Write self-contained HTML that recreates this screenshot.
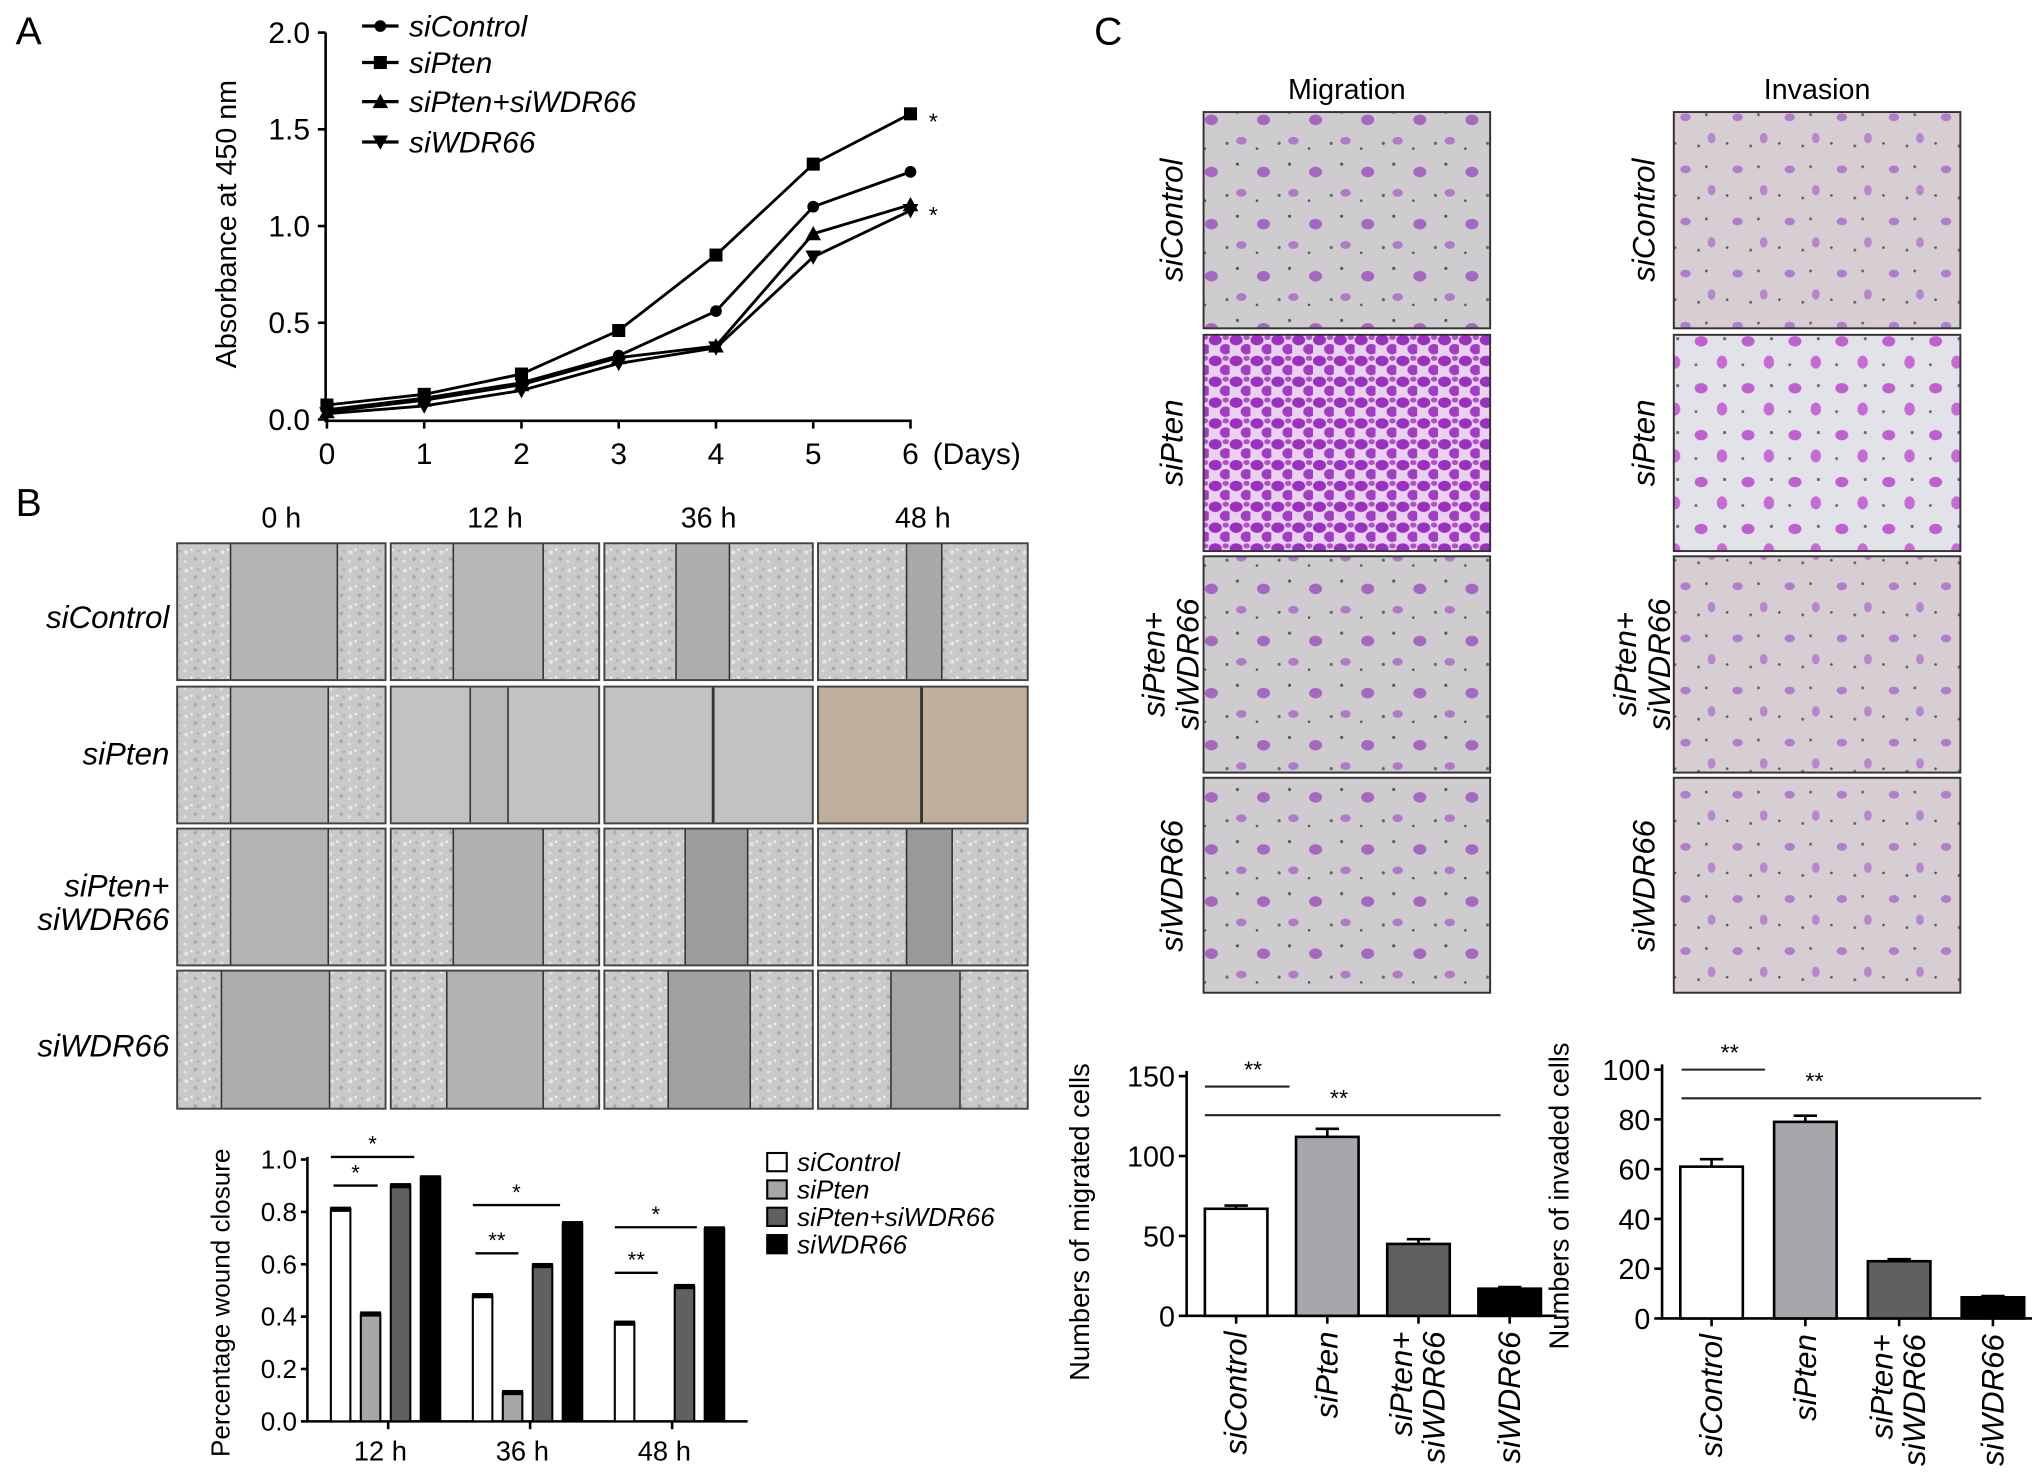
<!DOCTYPE html>
<html><head><meta charset="utf-8"><style>
html,body{margin:0;padding:0;background:#fff;}
svg{display:block;font-family:"Liberation Sans",Arial,sans-serif;}
</style></head><body>
<svg id="fig" width="2032" height="1480" viewBox="0 0 1560 1136" preserveAspectRatio="none" xmlns="http://www.w3.org/2000/svg">
<defs>
<pattern id="grain" width="14" height="14" patternUnits="userSpaceOnUse">
<rect width="14" height="14" fill="#c9c9c9"/><circle cx="3" cy="4" r="1.6" fill="#e6e6e6"/><circle cx="10" cy="9" r="1.4" fill="#a9a9a9"/><circle cx="7" cy="2" r="1" fill="#f0f0f0"/><circle cx="12" cy="3" r="1.2" fill="#b5b5b5"/><circle cx="2" cy="11" r="1.3" fill="#dedede"/>
</pattern>
<pattern id="migbg" width="40" height="40" patternUnits="userSpaceOnUse">
<rect width="40" height="40" fill="#cfcccf"/><ellipse cx="10" cy="12" rx="5" ry="4" fill="#a567bf"/><circle cx="30" cy="6" r="1.2" fill="#555"/><circle cx="22" cy="30" r="1.2" fill="#666"/><ellipse cx="33" cy="28" rx="4" ry="3" fill="#b07ac6"/><circle cx="5" cy="34" r="1" fill="#555"/>
</pattern>
<pattern id="invbg" width="40" height="40" patternUnits="userSpaceOnUse">
<rect width="40" height="40" fill="#d6ced2"/><ellipse cx="14" cy="10" rx="4" ry="3" fill="#b07ccc"/><circle cx="30" cy="8" r="1.1" fill="#666"/><circle cx="24" cy="32" r="1.1" fill="#666"/><ellipse cx="34" cy="26" rx="3" ry="4" fill="#b886cc"/><circle cx="6" cy="30" r="1" fill="#555"/>
</pattern>
<pattern id="dense" width="16" height="16" patternUnits="userSpaceOnUse">
<rect width="16" height="16" fill="#e8d2ef"/><ellipse cx="5" cy="5" rx="5" ry="4" fill="#9b2fc0"/><ellipse cx="13" cy="12" rx="4.5" ry="4" fill="#a23cc4"/><ellipse cx="13" cy="3" rx="2.5" ry="2" fill="#b050c8"/>
</pattern>
<pattern id="invpten" width="36" height="36" patternUnits="userSpaceOnUse">
<rect width="36" height="36" fill="#e2e3e8"/><ellipse cx="10" cy="10" rx="5" ry="4" fill="#c060d0"/><circle cx="28" cy="8" r="1.2" fill="#667"/><ellipse cx="26" cy="26" rx="4" ry="5" fill="#c86ad4"/><circle cx="6" cy="28" r="1.1" fill="#667"/>
</pattern>
</defs>

<text x="12" y="34" font-size="30">A</text>
<text x="12" y="396" font-size="30">B</text>
<text x="840" y="34" font-size="30">C</text>

<g id="panelA"></g>
<g id="woundImgs"></g>
<g id="panelB"></g>
<g id="transImgs"></g>
<g id="migChart"></g>
<g id="invChart"></g>
</svg>
<script>
// ---------- Panel A data ----------
const daysA = [0,1,2,3,4,5,6];
const seriesNamesA = ["siControl","siPten","siPten+siWDR66","siWDR66"];
const siControlA = [0.05,0.11,0.19,0.33,0.56,1.10,1.28];
const siPtenA = [0.075,0.13,0.235,0.46,0.85,1.32,1.58];
const siPtenWdrA = [0.04,0.10,0.18,0.32,0.38,0.96,1.11];
const siWdrA = [0.03,0.07,0.15,0.29,0.37,0.84,1.08];
const yTicksA = [0,0.5,1.0,1.5,2.0];
// ---------- Panel B data ----------
const timesB = ["12 h","36 h","48 h"];
const ctrlB = [0.81,0.48,0.375];
const ptenB = [0.41,0.11,0];
const ptenWdrB = [0.90,0.595,0.515];
const wdrB = [0.93,0.755,0.735];
const yTicksB = [0,0.2,0.4,0.6,0.8,1.0];
// ---------- Panel C data ----------
const groupsC = ["siControl","siPten","siPten+|siWDR66","siWDR66"];
const migVals = [67,112,45,17];
const migErr = [2,5,3,1];
const migTicks = [0,50,100,150];
const invVals = [61,79,23,8.5];
const invErr = [3,2.5,0.8,0.5];
const invTicks = [0,20,40,60,80,100];

const NS = "http://www.w3.org/2000/svg";
function mk(parent, tag, attrs, text){
  const e = document.createElementNS(NS, tag);
  for (const k in attrs) e.setAttribute(k, attrs[k]);
  if (text !== undefined) e.textContent = text;
  parent.appendChild(e);
  return e;
}

// ===== Panel A =====
(function(){
  const g = document.getElementById('panelA');
  const x = d => 251 + d*(699-251)/6;
  const y = v => 322 - v*(322-25)/2;
  let ax = mk(g,'path',{d:`M250 25 V323 H700`,stroke:'#000','stroke-width':2,fill:'none'});
   
  yTicksA.forEach(t=>{
    mk(g,'line',{x1:244,x2:250,y1:y(t),y2:y(t),stroke:'#000','stroke-width':2});
    let tl = mk(g,'text',{x:238,y:y(t)+8,'font-size':23,'text-anchor':'end'},t.toFixed(1));
     
  });
  daysA.forEach(d=>{
    mk(g,'line',{x1:x(d),x2:x(d),y1:323,y2:329,stroke:'#000','stroke-width':2});
    let tl = mk(g,'text',{x:x(d),y:356,'font-size':23,'text-anchor':'middle'},String(d));
     
  });
  let du = mk(g,'text',{x:716,y:356,'font-size':23},'(Days)');
   
  let yl = mk(g,'text',{x:0,y:0,'font-size':22,'text-anchor':'middle',transform:`translate(181 172) rotate(-90)`},'Absorbance at 450 nm');
   
  const all = [siControlA,siPtenA,siPtenWdrA,siWdrA];
  const marker = (gg,i,cx,cy)=>{
    if(i===0) mk(gg,'circle',{cx,cy,r:4.5,fill:'#000'});
    else if(i===1) mk(gg,'rect',{x:cx-5,y:cy-5,width:10,height:10,fill:'#000'});
    else if(i===2) mk(gg,'path',{d:`M${cx} ${cy-6} L${cx+6} ${cy+5} L${cx-6} ${cy+5}Z`,fill:'#000'});
    else mk(gg,'path',{d:`M${cx} ${cy+6} L${cx+6} ${cy-5} L${cx-6} ${cy-5}Z`,fill:'#000'});
  };
  all.forEach((s,i)=>{
    const sg = mk(g,'g',{});
    
    
    mk(sg,'polyline',{points:s.map((v,j)=>x(daysA[j])+','+y(v)).join(' '),fill:'none',stroke:'#000','stroke-width':2.2});
    s.forEach((v,j)=>marker(sg,i,x(daysA[j]),y(v)));
  });
  let s1 = mk(g,'text',{x:713,y:y(siPtenA[6])+12,'font-size':18},'*');
   
  let s2 = mk(g,'text',{x:713,y:y(siPtenWdrA[6])+14,'font-size':18},'*');
   
  const ly=[20,48,78,109];
  seriesNamesA.forEach((n,i)=>{
    const lg = mk(g,'g',{});
     
    mk(lg,'line',{x1:278,x2:306,y1:ly[i],y2:ly[i],stroke:'#000','stroke-width':2.5});
    marker(lg,i,292,ly[i]);
    mk(lg,'text',{x:314,y:ly[i]+8,'font-size':23,'font-style':'italic'},n);
  });
})();

// ===== Wound images =====
(function(){
  const g = document.getElementById('woundImgs');
  const cols=[[136,296],[300,460],[464,624],[628,789]];
  const rows=[[417,522],[527,632],[636,741],[745,851]];
  const gaps=[
    [[177,259],[348,417],[519,560],[696,723]],
    [[177,252],[361,390],[547,548],[707,708]],
    [[177,252],[348,417],[526,574],[696,731]],
    [[170,253],[343,417],[513,576],[684,737]]];
  const gapFill=[["#b4b4b4","#b6b6b6","#adadad","#a9a9a9"],["#b9b9b9","#b8b8b8","#c2c2c2","#bdae9d"],["#b3b3b3","#b0b0b0","#9c9c9c","#999"],["#adadad","#b2b2b2","#a1a1a1","#a5a5a5"]];
  const heads=["0 h","12 h","36 h","48 h"];
  cols.forEach((c,i)=>{
    let t = mk(g,'text',{x:(c[0]+c[1])/2,y:405,'font-size':22,'text-anchor':'middle'},heads[i]);
     
  });
  rows.forEach((r,ri)=>cols.forEach((c,ci)=>{
    const im = mk(g,'g',{});
     
    let fill = 'url(#grain)';
    if(ri===1 && ci===3) fill='#bfae9c';
    else if(ri===1 && ci>=1) fill='#c2c2c2';
    mk(im,'rect',{x:c[0],y:r[0],width:c[1]-c[0],height:r[1]-r[0],fill});
    const gp=gaps[ri][ci];
    mk(im,'rect',{x:gp[0],y:r[0],width:gp[1]-gp[0],height:r[1]-r[0],fill:gapFill[ri][ci]});
    mk(im,'line',{x1:gp[0],x2:gp[0],y1:r[0],y2:r[1],stroke:'#333','stroke-width':1.2});
    mk(im,'line',{x1:gp[1],x2:gp[1],y1:r[0],y2:r[1],stroke:'#333','stroke-width':1.2});
    mk(im,'rect',{x:c[0],y:r[0],width:c[1]-c[0],height:r[1]-r[0],fill:'none',stroke:'#444','stroke-width':1.5});
  }));
  const lab=[["siControl",482],["siPten",587],["siPten+",688],["siWDR66",714],["siWDR66",811]];
  lab.forEach(l=>{
    let t = mk(g,'text',{x:130,y:l[1],'font-size':24,'font-style':'italic','text-anchor':'end'},l[0]);
     
  });
})();

// ===== Panel B chart =====
(function(){
  const g = document.getElementById('panelB');
  const y = v => 1091 - v*(1091-890);
  const gc = i => 298 + i*109;
  const fills=['#fff','#a6a6a6','#606060','#000'];
  const data=[ctrlB,ptenB,ptenWdrB,wdrB];
  mk(g,'path',{d:'M236 888 V1091 H574',stroke:'#000','stroke-width':2,fill:'none'});
  yTicksB.forEach(t=>{
    mk(g,'line',{x1:231,x2:236,y1:y(t),y2:y(t),stroke:'#000','stroke-width':2});
    let tl = mk(g,'text',{x:228,y:y(t)+7,'font-size':20,'text-anchor':'end'},t.toFixed(1));
     
  });
  timesB.forEach((tm,i)=>{
    mk(g,'line',{x1:gc(i),x2:gc(i),y1:1091,y2:1097,stroke:'#000','stroke-width':2});
    let tl = mk(g,'text',{x:gc(i)-6,y:1121,'font-size':21,'text-anchor':'middle'},tm);
     
    data.forEach((s,k)=>{
      const bx = gc(i) - 44 + k*23;
      const v = s[i];
      if(v<=0) return;
      const b = mk(g,'rect',{x:bx,y:y(v),width:15,height:1091-y(v),fill:fills[k],stroke:'#000','stroke-width':1.6});
      
      
      mk(g,'rect',{x:bx-0.5,y:y(v)-2,width:16,height:4,fill:'#000'});
    });
  });
  let yl = mk(g,'text',{x:0,y:0,'font-size':20,'text-anchor':'middle',transform:'translate(176 1000) rotate(-90)'},'Percentage wound closure');
   
  const sig=[[254,318,888,'*'],[256,290,910,'*'],[363,430,925,'*'],[365,398,962,'**'],[472,535,942,'*'],[472,505,977,'**']];
  sig.forEach(s=>{
    const sg = mk(g,'g',{});
     
    mk(sg,'line',{x1:s[0],x2:s[1],y1:s[2],y2:s[2],stroke:'#000','stroke-width':1.8});
    mk(sg,'text',{x:(s[0]+s[1])/2,y:s[2]-4,'font-size':17,'text-anchor':'middle'},s[3]);
  });
  const names=["siControl","siPten","siPten+siWDR66","siWDR66"];
  names.forEach((n,i)=>{
    const lg = mk(g,'g',{});
     
    mk(lg,'rect',{x:589,y:885+i*21,width:15,height:14,fill:fills[i],stroke:'#000','stroke-width':1.6});
    mk(lg,'text',{x:612,y:899+i*21,'font-size':20,'font-style':'italic'},n);
  });
})();

// ===== Transwell images =====
(function(){
  const g = document.getElementById('transImgs');
  const cols=[[924,1144],[1285,1505]];
  const rows=[[86,252],[257,423],[427,593],[597,762]];
  let t1 = mk(g,'text',{x:1034,y:76,'font-size':22,'text-anchor':'middle'},'Migration');
   
  let t2 = mk(g,'text',{x:1395,y:76,'font-size':22,'text-anchor':'middle'},'Invasion');
   
  rows.forEach((r,ri)=>cols.forEach((c,ci)=>{
    let fill = ci===0 ? 'url(#migbg)' : 'url(#invbg)';
    if(ri===1) fill = ci===0 ? 'url(#dense)' : 'url(#invpten)';
    const im = mk(g,'rect',{x:c[0],y:r[0],width:c[1]-c[0],height:r[1]-r[0],fill,stroke:'#333','stroke-width':1.5});
     
  }));
  const lab=[[169,["siControl"]],[340,["siPten"]],[510,["siPten+","siWDR66"]],[680,["siWDR66"]]];
  [900,1262].forEach(xx=>lab.forEach(l=>{
    const tg = mk(g,'text',{x:0,y:0,'font-size':24,'font-style':'italic','text-anchor':'middle',transform:`translate(${xx} ${l[0]}) rotate(-90)`});
     
    if(l[1].length===1){ mk(tg,'tspan',{x:0,y:8},l[1][0]); }
    else { mk(tg,'tspan',{x:0,y:-6},l[1][0]); mk(tg,'tspan',{x:0,y:20},l[1][1]); }
  }));
})();

// ===== Panel C charts =====
function barChart(id, vals, errs, ticks, axX, y0, yTop, vTop, barX0, pitch, yTitle, ytX, ytY, sig){
  const g = document.getElementById(id);
  const y = v => y0 - v*(y0-yTop)/vTop;
  const fills=['#fff','#a7a7ab','#606060','#000'];
  const right = barX0 + 3*pitch + 60;
  mk(g,'path',{d:`M${axX} ${yTop-4} V${y0} H${right}`,stroke:'#000','stroke-width':2,fill:'none'});
  ticks.forEach(t=>{
    mk(g,'line',{x1:axX-6,x2:axX,y1:y(t),y2:y(t),stroke:'#000','stroke-width':2});
    let tl = mk(g,'text',{x:axX-9,y:y(t)+8,'font-size':22,'text-anchor':'end'},String(t));
     
  });
  vals.forEach((v,i)=>{
    const bx = barX0 + i*pitch;
    const cx = bx + 24;
    mk(g,'line',{x1:cx,x2:cx,y1:y(v),y2:y(v+errs[i]),stroke:'#000','stroke-width':2});
    mk(g,'line',{x1:cx-9,x2:cx+9,y1:y(v+errs[i]),y2:y(v+errs[i]),stroke:'#000','stroke-width':2});
    const b = mk(g,'rect',{x:bx,y:y(v),width:48,height:y0-y(v),fill:fills[i],stroke:'#000','stroke-width':2});
    
    
    mk(g,'line',{x1:cx,x2:cx,y1:y0,y2:y0+6,stroke:'#000','stroke-width':2});
    const parts = groupsC[i].split('|');
    const tg = mk(g,'text',{x:0,y:0,'font-size':24,'font-style':'italic','text-anchor':'end',transform:`translate(${cx} ${y0+12}) rotate(-90)`});
     
    if(parts.length===1) mk(tg,'tspan',{x:0,y:8},parts[0]);
    else { mk(tg,'tspan',{x:0,y:-5},parts[0]); mk(tg,'tspan',{x:0,y:20},parts[1]); }
  });
  const yl = mk(g,'text',{x:0,y:0,'font-size':21,'text-anchor':'middle',transform:`translate(${ytX} ${ytY}) rotate(-90)`},yTitle);
   
  sig.forEach(s=>{
    const sg = mk(g,'g',{});
     
    mk(sg,'line',{x1:s[0],x2:s[1],y1:s[2],y2:s[2],stroke:'#222','stroke-width':1.6});
    mk(sg,'text',{x:s[3],y:s[2]-7,'font-size':18,'text-anchor':'middle'},'**');
  });
}
barChart('migChart', migVals, migErr, migTicks, 911, 1010, 826, 150, 925, 70, 'Numbers of migrated cells', 836, 938,
  [[925,990,834,962],[925,1152,856,1028]]);
barChart('invChart', invVals, invErr, invTicks, 1276, 1012, 821, 100, 1290, 72, 'Numbers of invaded cells', 1204, 918,
  [[1291,1355,821,1328],[1291,1521,843,1393]]);
</script>
</body></html>
